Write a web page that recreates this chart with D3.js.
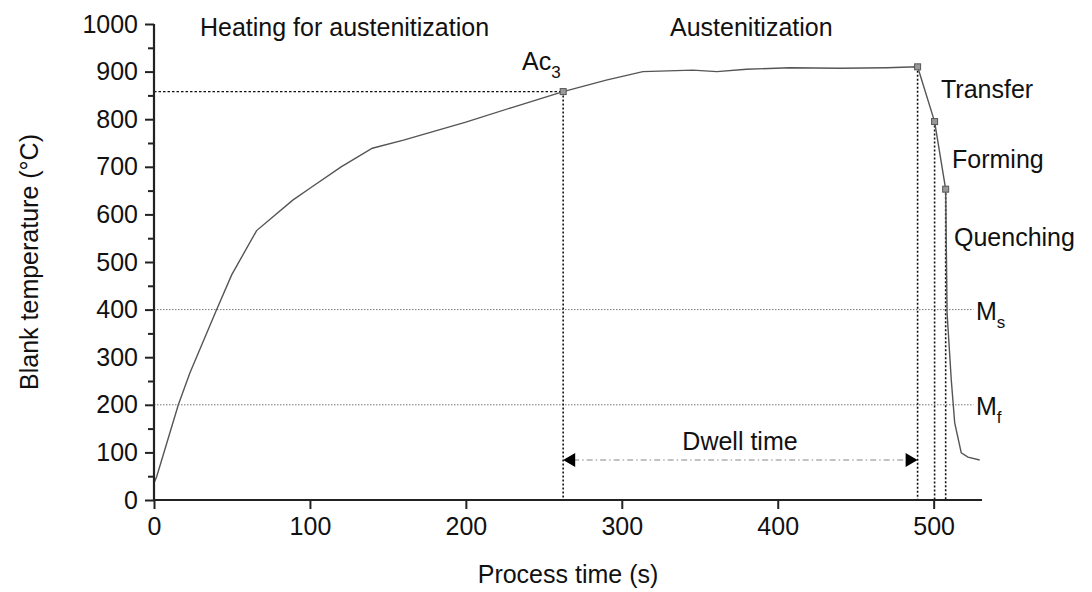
<!DOCTYPE html>
<html>
<head>
<meta charset="utf-8">
<script src="https://cdn.jsdelivr.net/npm/d3@7"></script>
<style>
  html, body { margin: 0; padding: 0; background: #fff; }
  svg { display: block; }
  text { font-family: "Liberation Sans", Arial, sans-serif; fill: #111; }
</style>
</head>
<body>
<svg id="chart" width="1092" height="592"></svg>
<script>
// ---- data ----
const timeS = [0, 1.7, 15.6, 23, 40.2, 49.8, 65.8, 89, 100, 120, 140, 160, 200, 230, 262.4, 290, 313.5, 345.5, 361, 380, 407.7, 440, 470, 489.7, 500.6, 507.7, 508.6, 511.3, 513.5, 517.7, 522, 529.5];
const tempC = [36, 49, 200, 267, 400, 473, 566, 630, 655, 700, 739, 756, 794, 825, 858, 882, 900, 903, 900, 905, 908, 907, 908, 910, 795, 653, 393, 252, 162, 99, 90, 84];
const markerTimes = [262.4, 489.7, 500.6, 507.7];
const markerTemps = [858, 910, 795, 653];
const xTicks = [0, 100, 200, 300, 400, 500];
const yTicks = [0, 100, 200, 300, 400, 500, 600, 700, 800, 900, 1000];
const yMinorTicks = [50, 150, 250, 350, 450, 550, 650, 750, 850, 950];
const msTemp = 400, mfTemp = 200;
const dwellStart = 262.4, dwellEnd = 489.7, dwellTemp = 84;
const phaseLabels = ["Heating for austenitization", "Austenitization", "Transfer", "Forming", "Quenching"];

// ---- layout ----
const svg = d3.select("#chart");
const margin = {left: 154, right: 110, top: 24, bottom: 92};
const W = 1092, H = 592;
const x = d3.scaleLinear().domain([0, 531]).range([margin.left, W - margin.right]);
const y = d3.scaleLinear().domain([0, 1000]).range([H - margin.bottom, margin.top]);

const axisColor = "#222";

// reference lines Ms / Mf
[msTemp, mfTemp].forEach(t => {
  svg.append("line")
    .attr("x1", x(0)).attr("x2", x(525.5))
    .attr("y1", y(t)).attr("y2", y(t))
    .attr("stroke", "#777").attr("stroke-width", 1)
    .attr("stroke-dasharray", "1.5,1.5");
});

// Ac3 horizontal dotted
svg.append("line")
  .attr("x1", x(0)).attr("x2", x(markerTimes[0]))
  .attr("y1", y(markerTemps[0])).attr("y2", y(markerTemps[0]))
  .attr("stroke", "#111").attr("stroke-width", 1.4)
  .attr("stroke-dasharray", "2.5,2");

// vertical dotted lines from markers
markerTimes.forEach((t, i) => {
  svg.append("line")
    .attr("x1", x(t)).attr("x2", x(t))
    .attr("y1", y(markerTemps[i])).attr("y2", y(0))
    .attr("stroke", "#111").attr("stroke-width", 1.6)
    .attr("stroke-dasharray", "2,2");
});

// dwell arrow
svg.append("line")
  .attr("x1", x(dwellStart) + 10).attr("x2", x(dwellEnd) - 10)
  .attr("y1", y(dwellTemp)).attr("y2", y(dwellTemp))
  .attr("stroke", "#888").attr("stroke-width", 1.2)
  .attr("stroke-dasharray", "6,3,1.5,3");
const ay = y(dwellTemp);
svg.append("path")
  .attr("d", `M${x(dwellStart)},${ay} l12,-7 l0,14 z`).attr("fill", "#000");
svg.append("path")
  .attr("d", `M${x(dwellEnd)},${ay} l-12,-7 l0,14 z`).attr("fill", "#000");

// curve
const pts = timeS.map((t, i) => [t, tempC[i]]);
svg.append("path")
  .datum(pts)
  .attr("fill", "none")
  .attr("stroke", "#555")
  .attr("stroke-width", 1.4)
  .attr("d", d3.line().x(d => x(d[0])).y(d => y(d[1])));

// markers
markerTimes.forEach((t, i) => {
  svg.append("rect")
    .attr("x", x(t) - 3).attr("y", y(markerTemps[i]) - 3)
    .attr("width", 6).attr("height", 6)
    .attr("fill", "#999").attr("stroke", "#555").attr("stroke-width", 1);
});

// axes
const fontSize = 25;
const xAxis = d3.axisBottom(x).tickValues(xTicks).tickSize(9).tickPadding(8).tickFormat(d3.format("d"));
const gx = svg.append("g").attr("transform", `translate(0,${y(0)})`).call(xAxis);
const yAxis = d3.axisLeft(y).tickValues(yTicks).tickSize(9).tickPadding(7).tickFormat(d3.format("d"));
const gy = svg.append("g").attr("transform", `translate(${x(0)},0)`).call(yAxis);
const yMinor = d3.axisLeft(y).tickValues(yMinorTicks).tickSize(6).tickFormat("");
const gym = svg.append("g").attr("transform", `translate(${x(0)},0)`).call(yMinor);
[gx, gy, gym].forEach(g => {
  g.selectAll(".domain").attr("stroke", axisColor).attr("stroke-width", 2.2);
  g.selectAll(".tick line").attr("stroke", axisColor).attr("stroke-width", 2);
  g.selectAll("text").attr("font-size", fontSize).attr("font-family", '"Liberation Sans", Arial, sans-serif').attr("fill", "#111");
});
gx.select(".domain").attr("d", `M${x(0)},0H${x(531)}`);
gy.select(".domain").attr("d", `M0,${y(0)}V${y(1000)}`);
gym.select(".domain").remove();

// axis titles
svg.append("text")
  .attr("x", (x(0) + x(531)) / 2).attr("y", 583)
  .attr("text-anchor", "middle").attr("font-size", fontSize)
  .text("Process time (s)");
svg.append("text")
  .attr("transform", `translate(38,${(y(0) + y(1000)) / 2}) rotate(-90)`)
  .attr("text-anchor", "middle").attr("font-size", fontSize)
  .text("Blank temperature (°C)");

// phase labels
const lbl = (txt, px, py, anchor = "start") =>
  svg.append("text").attr("x", px).attr("y", py).attr("font-size", fontSize)
    .attr("text-anchor", anchor).text(txt);
lbl(phaseLabels[0], 200, 36);
lbl(phaseLabels[1], 670, 36);
lbl(phaseLabels[2], 941, 98);
lbl(phaseLabels[3], 952, 168);
lbl(phaseLabels[4], 954, 246);
lbl("Dwell time", 740, 450, "middle");

// Ac3
const ac = svg.append("text").attr("x", 522).attr("y", 70).attr("font-size", fontSize);
ac.append("tspan").text("Ac");
ac.append("tspan").attr("font-size", 17).attr("dy", 8).text("3");

// Ms, Mf
const ms = svg.append("text").attr("x", 976).attr("y", y(msTemp) + 10).attr("font-size", fontSize);
ms.append("tspan").text("M");
ms.append("tspan").attr("font-size", 17).attr("dy", 8).text("s");
const mf = svg.append("text").attr("x", 976).attr("y", y(mfTemp) + 10).attr("font-size", fontSize);
mf.append("tspan").text("M");
mf.append("tspan").attr("font-size", 17).attr("dy", 8).text("f");
</script>
</body>
</html>
